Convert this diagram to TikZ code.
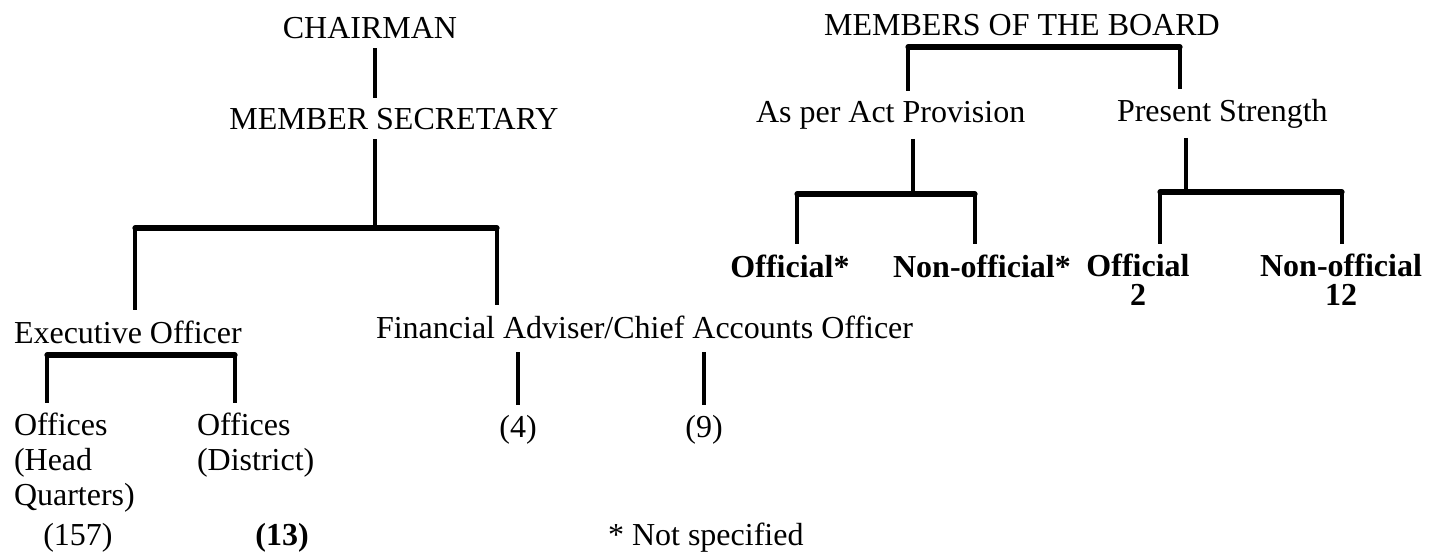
\documentclass[tikz,border=0pt]{standalone}
\usepackage{fontspec}
\setmainfont{Liberation Serif}
\begin{document}
\begin{tikzpicture}[x=0.5pt,y=-0.5pt,
  t/.style={inner sep=0pt,outer sep=5pt,font=\fontsize{16}{17.5}\selectfont},
  tb/.style={t,font=\fontsize{16}{14.5}\selectfont\bfseries},
  bar/.style={line width=2.6pt,line cap=round},
  vl/.style={line width=2pt}]
\useasboundingbox (0,0) rectangle (1430,558);
% left tree
\node[t,anchor=base] (chair) at (370,38) {CHAIRMAN};
\node[t,anchor=base] (ms) at (394,129) {MEMBER SECRETARY};
\coordinate (b1m) at (375,228);
\coordinate (b1l) at (135,228);
\coordinate (b1r) at (497,228);
\draw[vl] (chair.south -| b1m) -- (ms.north -| b1m);
\draw[vl] (ms.south -| b1m) -- (b1m);
\draw[bar] (b1l) -- (b1r);
\node[t,anchor=base west] (eo) at (4,343) {Executive Officer};
\node[t,anchor=base west] (fa) at (366,338) {Financial Adviser/Chief Accounts Officer};
\draw[vl] (b1l) -- (b1l |- eo.north);
\draw[vl] (b1r) -- (b1r |- fa.north);
% executive branch
\coordinate (ebl) at (47,355);
\coordinate (ebr) at (235,355);
\draw[bar] (ebl) -- (ebr);
\node[t,anchor=north west,align=left] (ohq) at (4,403) {Offices\\(Head\\Quarters)};
\node[t,anchor=north west,align=left] (odi) at (187,403) {Offices\\(District)};
\draw[vl] (ebl) -- (ebl |- ohq.north);
\draw[vl] (ebr) -- (ebr |- odi.north);
\node[t,anchor=base] (n157) at (78,545) {(157)};
\node[tb,anchor=base] (n13) at (282,545) {(13)};
% financial branch
\node[t,anchor=base] (n4) at (518,437) {(4)};
\node[t,anchor=base] (n9) at (704,437) {(9)};
\draw[vl] ([yshift=-2pt]fa.south -| n4) -- (n4.north);
\draw[vl] ([yshift=-2pt]fa.south -| n9) -- (n9.north);
\node[t,anchor=base west] (note) at (598,545) {* Not specified};
% right tree
\node[t,anchor=base] (mob) at (1022,35) {MEMBERS OF THE BOARD};
\coordinate (b2l) at (908,47);
\coordinate (b2r) at (1180,47);
\draw[bar] (b2l) -- (b2r);
\node[t,anchor=base west] (apa) at (746,122) {As per Act Provision};
\node[t,anchor=base west] (ps) at (1107,121) {Present Strength};
\draw[vl] (b2l) -- (b2l |- apa.north);
\draw[vl] (b2r) -- (b2r |- ps.north);
% act provision branch
\coordinate (b3m) at (913,194);
\coordinate (b3l) at (797,194);
\coordinate (b3r) at (975,194);
\draw[vl] (apa.south -| b3m) -- (b3m);
\draw[bar] (b3l) -- (b3r);
\node[tb,anchor=base] (off1) at (790,277) {Official*};
\node[tb,anchor=base] (noff1) at (982,277) {Non-official*};
\draw[vl] (b3l) -- (b3l |- off1.north);
\draw[vl] (b3r) -- (b3r |- noff1.north);
% present strength branch
\coordinate (b4m) at (1186,192);
\coordinate (b4l) at (1160,192);
\coordinate (b4r) at (1342,192);
\draw[vl] (ps.south -| b4m) -- (b4m);
\draw[bar] (b4l) -- (b4r);
\node[tb,anchor=north,align=center] (off2) at (1138,244) {Official\\2};
\node[tb,anchor=north,align=center] (noff2) at (1341,244) {Non-official\\12};
\draw[vl] (b4l) -- (b4l |- off2.north);
\draw[vl] (b4r) -- (b4r |- noff2.north);
\end{tikzpicture}
\end{document}
